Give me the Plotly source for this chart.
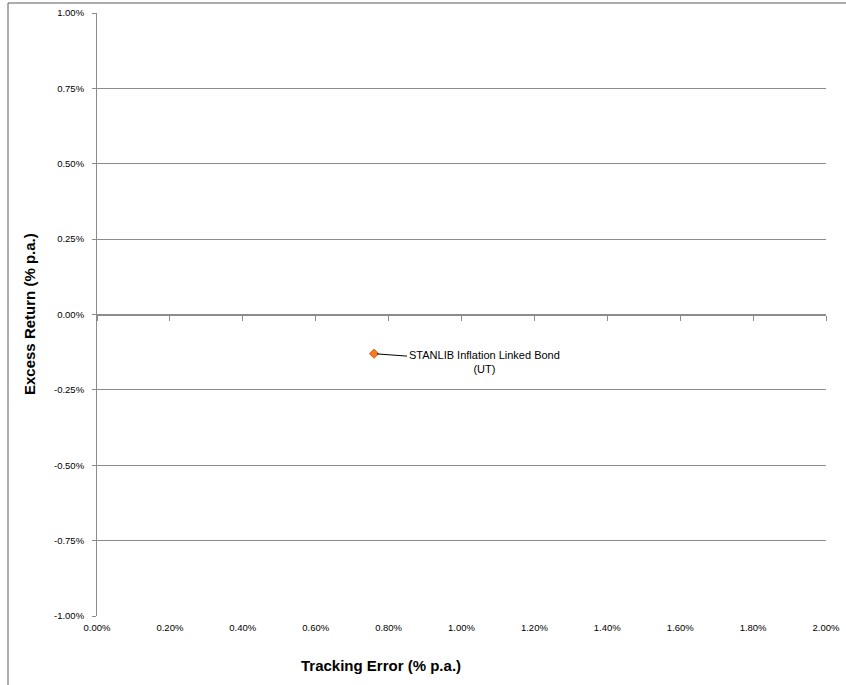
import plotly.graph_objects as go

# Data (values in % p.a.)
fund_names = ["STANLIB Inflation Linked Bond<br>(UT)"]
tracking_error = [0.76]
excess_return = [-0.13]

x_tickvals = [0.0, 0.2, 0.4, 0.6, 0.8, 1.0, 1.2, 1.4, 1.6, 1.8, 2.0]
x_ticktext = ["0.00%", "0.20%", "0.40%", "0.60%", "0.80%", "1.00%", "1.20%", "1.40%", "1.60%", "1.80%", "2.00%"]
y_tickvals = [-1.0, -0.75, -0.5, -0.25, 0.0, 0.25, 0.5, 0.75, 1.0]
y_ticktext = ["-1.00%", "-0.75%", "-0.50%", "-0.25%", "0.00%", "0.25%", "0.50%", "0.75%", "1.00%"]

W, H = 846, 685
# target plot area in screen pixels
PX0, PX1, PY0, PY1 = 97, 826, 13, 616
L, T = PX0, PY0
R, B = W - PX1, H - PY1
pw, ph = PX1 - PX0, PY1 - PY0


def px_x(sx):
    return (sx - PX0) / pw


def px_y(sy):
    return (PY1 - sy) / ph


grid = "#8c8c8c"
tickfont = dict(family="Liberation Sans, Arial, sans-serif", size=9.5, color="#000000")

fig = go.Figure()
fig.add_trace(go.Scatter(
    x=tracking_error, y=excess_return, mode="markers",
    marker=dict(symbol="diamond", size=7, color="#F47A1F", line=dict(color="#E2561B", width=1)),
    showlegend=False, hoverinfo="skip", xaxis="x", yaxis="y",
))
# invisible trace to register the zero-line tick axis
fig.add_trace(go.Scatter(x=tracking_error, y=excess_return, mode="markers",
                         marker=dict(opacity=0), showlegend=False, hoverinfo="skip",
                         xaxis="x2", yaxis="y"))

for name, xv, yv in zip(fund_names, tracking_error, excess_return):
    fig.add_annotation(
        x=xv, y=yv, xref="x", yref="y", text=name, showarrow=True,
        arrowhead=0, arrowwidth=1, arrowcolor="#000000", ax=110, ay=8,
        font=dict(family="Liberation Sans, Arial, sans-serif", size=11, color="#000000"),
        align="center", standoff=3,
    )

fig.update_layout(
    width=W, height=H,
    margin=dict(l=L, r=R, t=T, b=B, autoexpand=False),
    paper_bgcolor="white", plot_bgcolor="white",
    xaxis=dict(range=[0, 2], tickvals=x_tickvals, ticktext=x_ticktext, showgrid=False,
               zeroline=False, showline=False, ticks="", tickfont=tickfont,
               ticklabelstandoff=4, automargin=False, ticklabeloverflow="allow"),
    xaxis2=dict(range=[0, 2], overlaying="x", anchor="free", position=0.5,
                tickvals=x_tickvals, showticklabels=False, ticks="outside", ticklen=5,
                tickcolor=grid, showline=True, linecolor=grid, linewidth=1,
                showgrid=False, zeroline=False, automargin=False),
    yaxis=dict(range=[-1, 1], tickvals=y_tickvals, ticktext=y_ticktext, showgrid=True,
               gridcolor=grid, gridwidth=1, zeroline=False, showline=True, linecolor=grid,
               ticks="outside", ticklen=4, tickcolor=grid, tickfont=tickfont,
               ticklabelstandoff=6, automargin=False, ticklabeloverflow="allow"),
    font=dict(family="Liberation Sans, Arial, sans-serif"),
)

# Axis titles
fig.add_annotation(text="<b>Tracking Error (% p.a.)</b>", xref="paper", yref="paper",
                   x=px_x(381), y=px_y(665), showarrow=False,
                   font=dict(size=15, color="#000000"), xanchor="center", yanchor="middle")
fig.add_annotation(text="<b>Excess Return (% p.a.)</b>", xref="paper", yref="paper",
                   x=px_x(30), y=px_y(314), showarrow=False, textangle=-90,
                   font=dict(size=15, color="#000000"), xanchor="center", yanchor="middle")

# Outer chart frame
fig.add_shape(type="rect", xref="paper", yref="paper",
              x0=px_x(8), x1=px_x(W + 20), y0=px_y(H + 20), y1=px_y(3),
              line=dict(color="#5a5a5a", width=1), fillcolor="rgba(0,0,0,0)", layer="below")

fig.write_html("out.html", config={"displayModeBar": False},
               post_script="document.body.style.margin='0';document.body.style.overflow='hidden';")
